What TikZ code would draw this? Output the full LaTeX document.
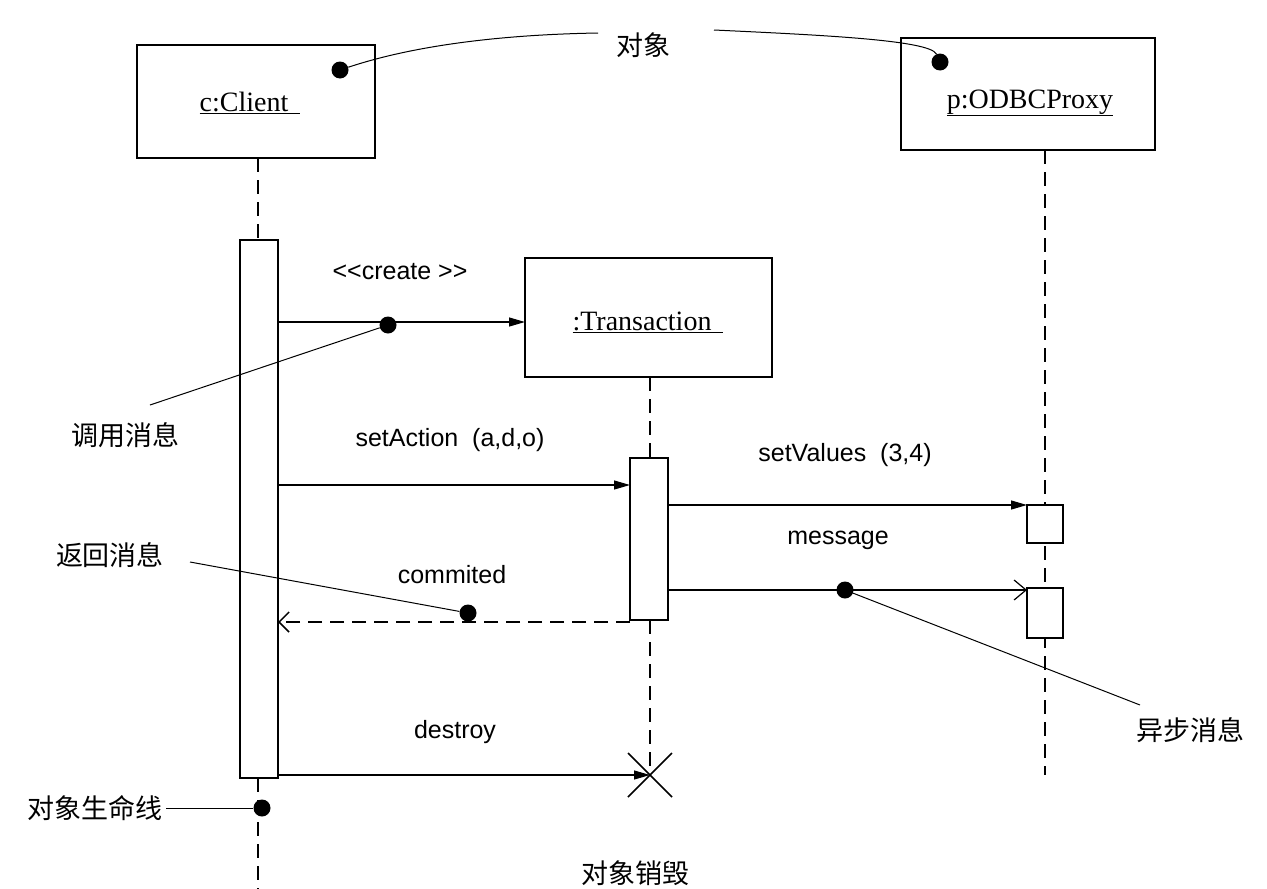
\documentclass[tikz,border=0pt]{standalone}
\usepackage{fontspec}
\setmainfont{Liberation Serif}
\newfontfamily\lsans{Liberation Sans}
\newfontfamily\cjk{Noto Sans CJK SC}
\usetikzlibrary{arrows.meta}
\begin{document}
\begin{tikzpicture}[x=1pt,y=-1pt,
  lbl/.style={font=\fontsize{28}{30}\selectfont},
  mlbl/.style={font=\lsans\fontsize{25}{27}\selectfont},
  cn/.style={font=\cjk\fontsize{27}{29}\selectfont},
  life/.style={line width=1.5pt,dash pattern=on 14pt off 8pt},
  act/.style={draw,fill=white,line width=1.2pt},
  msg/.style={line width=1.2pt,-{Triangle[length=16pt,width=9pt]}},
  amsg/.style={line width=1.2pt,-{Straight Barb[length=12pt,width=20pt]}},
  rmsg/.style={line width=1.5pt,dash pattern=on 14pt off 8pt,-{Straight Barb[length=10pt,width=20pt]}},
  ann/.style={line width=1pt},
  dot/.style={circle,fill,inner sep=0pt,minimum size=17pt}]
\useasboundingbox[fill=white] (0,0) rectangle (1267,889);
% objects
\draw[line width=1.2pt] (137,45) rectangle (375,158);
\node[lbl] (cl) at (250,103) {\underline{c:Client\hspace{12pt}}};
\draw[line width=1.2pt] (901,38) rectangle (1155,150);
\node[lbl] (px) at (1030,103) {\underline{p:ODBCProxy}};
\draw[line width=1.2pt] (525,258) rectangle (772,377);
\node[lbl] (tr) at (648,322) {\underline{:Transaction\hspace{12pt}}};
% lifelines
\draw[life] (258,158) -- (258,240);
\draw[life] (258,778) -- (258,889);
\draw[life] (650,377) -- (650,458);
\draw[life] (650,620) -- (650,775);
\draw[life] (1045,150) -- (1045,775);
% activations
\draw[act] (240,240) rectangle (278,778);
\draw[act] (630,458) rectangle (668,620);
\draw[act] (1027,505) rectangle (1063,543);
\draw[act] (1027,588) rectangle (1063,638);
% X
\draw[line width=1.5pt] (628,753) -- (672,797) (628,797) -- (672,753);
% messages
\coordinate (c1) at (278,322); \coordinate (t1) at (525,322);
\draw[msg] (c1) -- (t1);
\node[mlbl] at (400,272) {<\kern0pt<create >\kern0pt>};
\coordinate (c2) at (278,485); \coordinate (t2) at (630,485);
\draw[msg] (c2) -- (t2);
\node[mlbl] at (450,440) {setAction\ \ (a,d,o)};
\coordinate (t3) at (668,505); \coordinate (p3) at (1027,505);
\draw[msg] (t3) -- (p3);
\node[mlbl] at (845,455) {setValues\ \ (3,4)};
\coordinate (t4) at (668,590); \coordinate (p4) at (1027,590);
\draw[amsg] (t4) -- (p4);
\node[mlbl] at (838,540) {message};
\coordinate (t5) at (630,622); \coordinate (c5) at (278,622);
\draw[rmsg] (t5) -- (c5);
\node[mlbl] at (452,575) {commited};
\coordinate (c6) at (278,775); \coordinate (t6) at (650,775);
\draw[msg] (c6) -- (t6);
\node[mlbl] at (455,732) {destroy};
% annotations
\node[cn] (a1) at (643,45) {对象};
\node[dot] (d1) at (340,70) {};
\node[dot] (d2) at (940,62) {};
\draw[ann] (598,33) .. controls (480,35) and (400,50) .. (d1);
\draw[ann] (714,30) .. controls (820,35) and (930,40) .. (d2);
\node[cn] (a2) at (125,435) {调用消息};
\node[dot] (d3) at (388,325) {};
\draw[ann] (150,405) -- (d3);
\node[cn] (a3) at (110,555) {返回消息};
\node[dot] (d4) at (468,613) {};
\draw[ann] (190,562) -- (d4);
\node[cn] (a4) at (1190,730) {异步消息};
\node[dot] (d5) at (845,590) {};
\draw[ann] (1140,705) -- (d5);
\node[cn] (a5) at (95,808) {对象生命线};
\node[dot] (d6) at (262,808) {};
\draw[ann] (a5.east) -- (d6);
\node[cn] (a6) at (635,873) {对象销毁};
\end{tikzpicture}
\end{document}
